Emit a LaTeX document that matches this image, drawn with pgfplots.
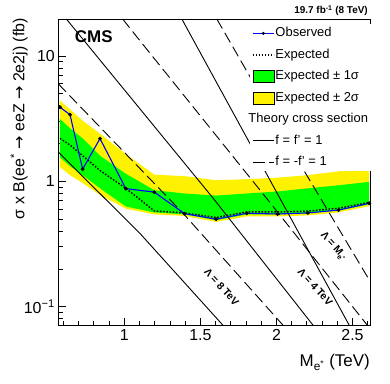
\documentclass[border=0pt]{standalone}
\usepackage{fontspec}
\setmainfont{Liberation Sans}
\newfontfamily\dejavu{DejaVu Sans}
\usepackage{pgfplots}
\usepackage{pgfplotstable}
\pgfplotsset{compat=1.18}
\usepgfplotslibrary{fillbetween}
\usetikzlibrary{calc}

% mass, observed, expected, -1sigma, +1sigma, -2sigma, +2sigma
\pgfplotstableread{
m     obs   exp   glo   ghi   ylo   yhi
0.577 3.90  2.20  1.55  3.15  1.30  4.40
0.643 3.40  1.95  1.32  2.65  1.12  3.75
0.726 1.25  1.60  1.12  2.20  0.97  3.05
0.840 2.19  1.22  0.88  1.60  0.78  2.40
1.010 0.875 0.88  0.63  1.15  0.605 1.65
1.197 0.82  0.58  0.565 0.85  0.545 1.13
1.395 0.553 0.56  0.545 0.80  0.53  1.10
1.603 0.499 0.515 0.49  0.77  0.475 1.02
1.805 0.556 0.57  0.545 0.80  0.525 1.04
2.007 0.549 0.57  0.545 0.83  0.525 1.07
2.207 0.56  0.58  0.555 0.88  0.535 1.12
2.408 0.59  0.61  0.585 0.93  0.565 1.20
2.610 0.668 0.68  0.655 0.99  0.635 1.32
}\limits

\pgfplotsset{theory/.style={black, line width=0.9bp, forget plot},
             theorydash/.style={theory, dash pattern=on 11bp off 5bp}}

\begin{document}
\begin{tikzpicture}
\begin{axis}[
    scale only axis,
    width=311.7bp, height=306.7bp,
    ymode=log,
    xmin=0.566, xmax=2.615,
    ymin=0.0706, ymax=19.7,
    xtick={1,1.5,2,2.5},
    xticklabels={1,1.5,2,2.5},
    minor xtick={0.6,0.7,0.8,0.9,1.1,1.2,1.3,1.4,1.6,1.7,1.8,1.9,2.1,2.2,2.3,2.4,2.6},
    ytick={0.1,1,10},
    yticklabels={10\textsuperscript{\char"2212 1},1,10},
    minor ytick={0.08,0.09,0.2,0.3,0.4,0.5,0.6,0.7,0.8,0.9,2,3,4,5,6,7,8,9},
    tick pos=left,
    tick align=inside,
    major tick length=8bp,
    minor tick length=4.5bp,
    tick style={black, line width=0.8bp},
    axis line style={line width=0.9bp},
    tick label style={font=\fontsize{16}{16}\selectfont},
    legend style={at={(rel axis cs:0.615,0.983)}, anchor=north west,
        draw=none, fill=white, inner sep=2bp,
        font=\fontsize{13}{13.5}\selectfont, row sep=7.6bp,
        nodes={inner sep=1bp, text height=9.3bp, text depth=2.6bp},
        /tikz/every even column/.append style={column sep=4bp}},
    legend cell align=left,
]
% bands
\addplot[name path=yhi, draw=none, forget plot] table[x=m, y=yhi] {\limits};
\addplot[name path=ylo, draw=none, forget plot] table[x=m, y=ylo] {\limits};
\addplot[yellow, forget plot] fill between[of=yhi and ylo];
\addplot[name path=ghi, draw=none, forget plot] table[x=m, y=ghi] {\limits};
\addplot[name path=glo, draw=none, forget plot] table[x=m, y=glo] {\limits};
\addplot[green, forget plot] fill between[of=ghi and glo];

% theory cross sections
\addplot[theory] coordinates {(0.566,1.71) (1.103,0.384) (1.651,0.0706)};
\addplot[theorydash] coordinates {(0.566,5.99) (1.388,0.553) (2.046,0.0706)};
\addplot[theory] coordinates {(0.619,19.7) (1.103,3.78) (1.586,0.728) (2.243,0.0706)};
\addplot[theorydash] coordinates {(0.989,19.7) (1.103,13.2) (1.937,0.728) (2.60,0.0706)};
\addplot[theory] coordinates {(1.378,19.7) (2.024,0.728) (2.48,0.0706)};
\addplot[theorydash] coordinates {(1.608,19.7) (2.167,1.30) (2.615,0.16)};

% expected and observed
\addplot[black, line width=1.4bp, dash pattern=on 1.6bp off 1.6bp, forget plot] table[x=m, y=exp] {\limits};
\addplot[blue, line width=1.1bp, mark=*, mark size=1.3bp,
    mark options={black, fill=black, solid}, forget plot] table[x=m, y=obs] {\limits};

\node[rotate=-48, font=\bfseries\fontsize{10.5}{10.5}\selectfont] at (axis cs:1.64,0.144) {Λ = 8 TeV};
\node[rotate=-48, font=\bfseries\fontsize{10.5}{10.5}\selectfont] at (axis cs:2.255,0.144) {Λ = 4 TeV};
\node[rotate=-48, font=\bfseries\fontsize{10.5}{10.5}\selectfont] at (axis cs:2.375,0.30) {Λ = M\textsubscript{e\textsuperscript{*}}};

\addlegendimage{legend image code/.code={\draw[blue,line width=1.1bp] (0bp,0bp)--(21bp,0bp); \fill[black] (10.5bp,0bp) circle (1.3bp);}}
\addlegendentry{Observed}
\addlegendimage{legend image code/.code={\draw[black,line width=1.3bp,dash pattern=on 1.5bp off 1.5bp] (0bp,0bp)--(21bp,0bp);}}
\addlegendentry{Expected}
\addlegendimage{legend image code/.code={\draw[black,fill=green,line width=0.6bp] (0bp,-6bp) rectangle (21bp,6bp);}}
\addlegendentry{Expected ± 1σ}
\addlegendimage{legend image code/.code={\draw[black,fill=yellow,line width=0.6bp] (0bp,-6bp) rectangle (21bp,6bp);}}
\addlegendentry{Expected ± 2σ}
\addlegendimage{empty legend}
\addlegendentry{\hspace*{-27bp}Theory cross section}
\addlegendimage{legend image code/.code={\draw[black,line width=0.9bp] (0bp,0bp)--(21bp,0bp);}}
\addlegendentry{f = f' = 1}
\addlegendimage{legend image code/.code={\draw[black,line width=0.9bp,dash pattern=on 12bp off 4bp] (0bp,0bp)--(21bp,0bp);}}
\addlegendentry{f = -f' = 1}
\end{axis}

\node[anchor=base west, inner sep=0, font=\bfseries\fontsize{17}{17}\selectfont]
    at ($(current axis.north west)+(16.5bp,-24bp)$) {CMS};
\node[anchor=base east, inner sep=0, font=\bfseries\fontsize{10}{10}\selectfont]
    at ($(current axis.north east)+(-2bp,5bp)$) {19.7 fb\textsuperscript{-1} (8 TeV)};
\node[rotate=90, anchor=north east, inner sep=0, font=\fontsize{16}{16}\selectfont]
    at ($(current axis.north west)+(-48bp,1bp)$)
    {σ x B(ee\textsuperscript{*} {\dejavu →} eeZ {\dejavu →} 2e2j) (fb)};
\node[anchor=base east, inner sep=0, font=\fontsize{17}{17}\selectfont]
    at ($(current axis.south east)+(0bp,-41bp)$) {M\textsubscript{e\textsuperscript{*}} (TeV)};

\pgfresetboundingbox
\path ($(current axis.south west)+(-58.3bp,-58.3bp)$) rectangle ($(current axis.north east)+(20bp,19bp)$);
\end{tikzpicture}
\end{document}
